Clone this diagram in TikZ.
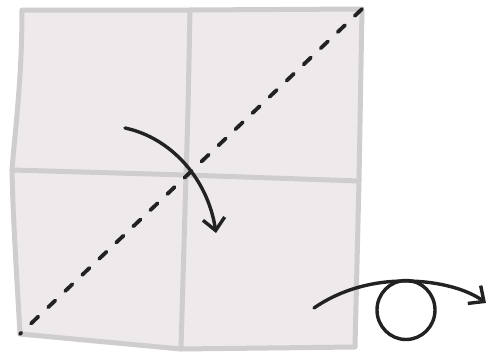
\documentclass[tikz,border=0pt]{standalone}
\usetikzlibrary{arrows.meta}
\definecolor{paper}{HTML}{EEEAEC}
\definecolor{crease}{HTML}{CFCDCE}
\definecolor{ink}{HTML}{222222}
\tikzset{
  creaseline/.style={draw=crease, line width=5pt, line join=round, line cap=round},
  foldline/.style={draw=ink, line width=3.8pt, line cap=round, dash pattern=on 10pt off 13.5pt},
  inkarrow/.style={draw=ink, line width=3.4pt, line cap=round, -{Straight Barb[length=12pt,width=22pt,line width=3.4pt]}},
  inkline/.style={draw=ink, line width=3.4pt, line cap=round}
}
\begin{document}
\begin{tikzpicture}[x=1pt,y=-1pt]
\useasboundingbox (0,0) rectangle (488,356);
% paper square
\coordinate (tl) at (22,10);
\coordinate (tr) at (362,9);
\coordinate (mr) at (359,181);
\coordinate (br) at (355,347);
\coordinate (bm) at (181,349);
\coordinate (bl) at (20,334);
\coordinate (ml) at (12,170);
\coordinate (tm) at (190,10);
\coordinate (cc) at (186,175);
\fill[paper] (tl) -- (tm) -- (tr) -- (mr) -- (br) -- (bm) -- (bl) .. controls (17,280) and (13,220) .. (ml) .. controls (15,130) and (22,80) .. (tl) -- cycle;
\draw[creaseline] (tl) -- (tm) -- (tr) -- (mr) -- (br) -- (bm) -- (bl) .. controls (17,280) and (13,220) .. (ml) .. controls (15,130) and (22,80) .. (tl) -- cycle;
\draw[creaseline] (ml) -- (cc) -- (mr);
\draw[creaseline] (tm) .. controls (189,60) and (188,120) .. (cc) -- (bm);
% diagonal fold
\draw[foldline] (tr) -- (bl);
% fold arrow
\coordinate (a1s) at (125,128);
\coordinate (a1e) at (216,233);
\draw[inkarrow] (a1s) .. controls (172,138) and (208,180) .. (a1e);
% turn-over arrow
\coordinate (a2s) at (314,308);
\coordinate (a2t) at (405,281);
\coordinate (a2e) at (486,303);
\coordinate (loopc) at (406,310);
\draw[inkline] (a2s) .. controls (340,290) and (372,281) .. (a2t);
\draw[inkline] (loopc) ellipse[x radius=29pt, y radius=29.5pt];
\draw[inkarrow] (a2t) .. controls (440,281) and (468,290) .. (a2e);
\end{tikzpicture}
\end{document}
